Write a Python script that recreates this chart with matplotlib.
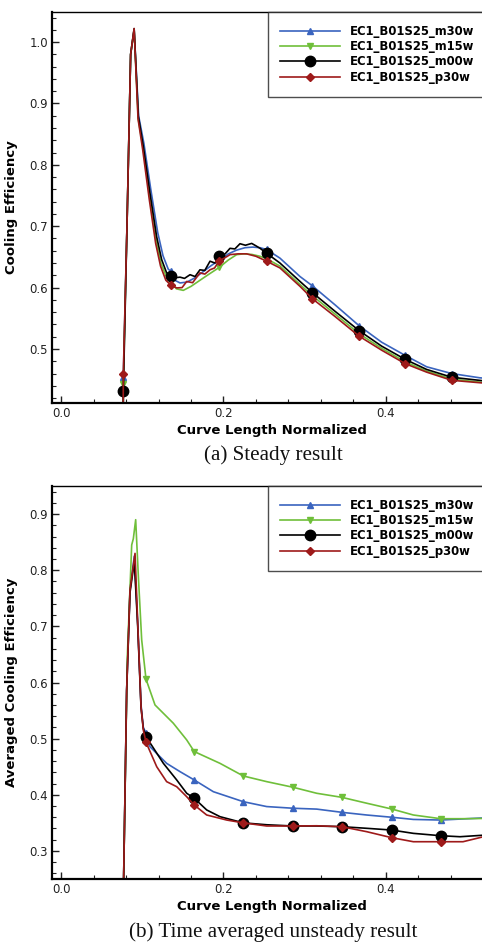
import matplotlib
matplotlib.use("Agg")
import matplotlib.pyplot as plt
from matplotlib.lines import Line2D
from matplotlib.ticker import MultipleLocator, FormatStrFormatter

# ---------------- data: (a) steady result ----------------
series_names = ["EC1_B01S25_m30w", "EC1_B01S25_m15w", "EC1_B01S25_m00w", "EC1_B01S25_p30w"]

a_m30w_x = [0.0765, 0.0767, 0.0812, 0.0857, 0.090, 0.0955, 0.1020, 0.1105, 0.1190, 0.1255, 0.1320, 0.1354,
            0.1400, 0.1465, 0.1550, 0.1650, 0.1750, 0.1850, 0.1957, 0.2060, 0.2160, 0.2265, 0.2360, 0.2450,
            0.2531, 0.2695, 0.2942, 0.3093, 0.3372, 0.3668, 0.3947, 0.4238, 0.450, 0.4808, 0.5157, 0.5305]
a_m30w_y = [0.38, 0.455, 0.70, 0.98, 1.020, 0.880, 0.835, 0.760, 0.690, 0.652, 0.630, 0.6265,
            0.612, 0.6076, 0.609, 0.616, 0.626, 0.636, 0.6455, 0.655, 0.661, 0.665, 0.666, 0.665,
            0.662, 0.648, 0.618, 0.603, 0.572, 0.538, 0.511, 0.4894, 0.471, 0.460, 0.453, 0.4515]

a_m15w_x = [0.0765, 0.0767, 0.0812, 0.0857, 0.090, 0.0950, 0.1010, 0.1090, 0.1170, 0.1230, 0.1290, 0.1354,
            0.1420, 0.1505, 0.1600, 0.1700, 0.1800, 0.1949, 0.2060, 0.2162, 0.2250, 0.2350, 0.2450, 0.2531,
            0.2695, 0.2942, 0.3093, 0.3372, 0.3668, 0.3947, 0.4238, 0.450, 0.4808, 0.5157, 0.5305]
a_m15w_y = [0.38, 0.443, 0.70, 0.98, 1.020, 0.875, 0.828, 0.750, 0.678, 0.640, 0.620, 0.609,
            0.598, 0.5955, 0.602, 0.611, 0.620, 0.633, 0.645, 0.6537, 0.655, 0.654, 0.651, 0.647,
            0.635, 0.605, 0.587, 0.557, 0.525, 0.501, 0.479, 0.464, 0.451, 0.446, 0.4445]

a_m00w_x = [0.0765, 0.0767, 0.0812, 0.0857, 0.090, 0.0952, 0.1013, 0.1095, 0.1177, 0.1239, 0.1300, 0.1354,
            0.1400, 0.1465, 0.1520, 0.1588, 0.1650, 0.1710, 0.1770, 0.1834, 0.1895, 0.1957, 0.2020, 0.2080,
            0.2140, 0.2203, 0.2270, 0.2347, 0.2400, 0.2450, 0.2531, 0.2695, 0.2942, 0.3093, 0.3372, 0.3668,
            0.3947, 0.4238, 0.450, 0.4808, 0.5157, 0.5305]
a_m00w_y = [0.38, 0.431, 0.70, 0.98, 1.022, 0.879, 0.830, 0.754, 0.683, 0.6455, 0.624, 0.6195,
            0.616, 0.617, 0.615, 0.621, 0.618, 0.629, 0.628, 0.643, 0.640, 0.652, 0.655, 0.664,
            0.663, 0.6715, 0.669, 0.672, 0.668, 0.664, 0.656, 0.640, 0.610, 0.592, 0.5615, 0.530,
            0.5046, 0.483, 0.4667, 0.454, 0.4488, 0.447]

a_p30w_x = [0.0765, 0.0767, 0.0812, 0.0857, 0.090, 0.0948, 0.1005, 0.1085, 0.1165, 0.1225, 0.1290, 0.1354,
            0.1424, 0.1490, 0.1547, 0.1620, 0.1710, 0.1770, 0.1834, 0.1890, 0.1949, 0.2010, 0.2080, 0.2180,
            0.2285, 0.2400, 0.2531, 0.2695, 0.2942, 0.3093, 0.3372, 0.3668, 0.3947, 0.4238, 0.450, 0.4808,
            0.5157, 0.5305]
a_p30w_y = [0.38, 0.460, 0.70, 0.98, 1.022, 0.875, 0.825, 0.745, 0.672, 0.635, 0.612, 0.6037,
            0.5995, 0.600, 0.610, 0.608, 0.624, 0.622, 0.629, 0.632, 0.644, 0.648, 0.6537, 0.655,
            0.655, 0.651, 0.643, 0.632, 0.602, 0.582, 0.553, 0.521, 0.498, 0.476, 0.4623, 0.449,
            0.445, 0.4435]

# marker samples (a)
a_mk_x = [0.0767, 0.1354, 0.1949, 0.2531, 0.3093, 0.3668, 0.4238, 0.4808]
a_mk_m30w = [0.455, 0.6265, 0.648, 0.663, 0.603, 0.538, 0.4894, 0.460]
a_mk_m15w = [0.443, 0.609, 0.633, 0.647, 0.587, 0.525, 0.479, 0.451]
a_mk_m00w = [0.431, 0.6195, 0.652, 0.656, 0.592, 0.530, 0.483, 0.454]
a_mk_p30w = [0.460, 0.6037, 0.644, 0.643, 0.582, 0.521, 0.476, 0.449]

# ---------------- data: (b) time averaged unsteady result ----------------
b_m30w_x = [0.0765, 0.0808, 0.0849, 0.0902, 0.0944, 0.0985, 0.1013, 0.1046, 0.1095, 0.1300, 0.1465, 0.1640,
            0.1875, 0.2244, 0.2532, 0.2859, 0.3147, 0.3455, 0.3762, 0.4070, 0.4337, 0.4673, 0.4948, 0.5305]
b_m30w_y = [0.20, 0.587, 0.765, 0.825, 0.706, 0.560, 0.520, 0.510, 0.4857, 0.456, 0.4412, 0.4264,
            0.4055, 0.3877, 0.379, 0.376, 0.3745, 0.3688, 0.364, 0.360, 0.3561, 0.355, 0.357, 0.3595]

b_m15w_x = [0.0765, 0.0816, 0.0870, 0.0890, 0.0919, 0.0952, 0.0993, 0.1046, 0.1157, 0.1382, 0.1547, 0.1640,
            0.1957, 0.2244, 0.2532, 0.2859, 0.3147, 0.3455, 0.3762, 0.4070, 0.4337, 0.4673, 0.4948, 0.5305]
b_m15w_y = [0.20, 0.646, 0.845, 0.856, 0.890, 0.789, 0.676, 0.606, 0.560, 0.5275, 0.4977, 0.477,
            0.456, 0.4335, 0.4234, 0.4133, 0.4027, 0.3955, 0.385, 0.3747, 0.364, 0.3574, 0.3574, 0.358]

b_m00w_x = [0.0765, 0.0808, 0.0849, 0.0902, 0.0944, 0.0985, 0.1013, 0.1046, 0.1260, 0.1424, 0.1547, 0.1640,
            0.1793, 0.1957, 0.2244, 0.2532, 0.2859, 0.3147, 0.3455, 0.3762, 0.4070, 0.4337, 0.4673, 0.4911,
            0.5305]
b_m00w_y = [0.20, 0.585, 0.760, 0.8155, 0.700, 0.555, 0.518, 0.5036, 0.456, 0.4264, 0.4027, 0.3937,
            0.373, 0.361, 0.350, 0.3466, 0.3444, 0.3444, 0.3432, 0.3403, 0.3372, 0.3313, 0.3271, 0.3253,
            0.329]

b_p30w_x = [0.0765, 0.0808, 0.0849, 0.0911, 0.0944, 0.0985, 0.1013, 0.1046, 0.1178, 0.1300, 0.1424, 0.1547,
            0.1640, 0.1793, 0.2040, 0.2244, 0.2532, 0.2859, 0.3147, 0.3455, 0.3762, 0.4070, 0.4337, 0.4673,
            0.4948, 0.5305]
b_p30w_y = [0.20, 0.587, 0.765, 0.830, 0.706, 0.557, 0.5155, 0.4936, 0.450, 0.4234, 0.4144, 0.3966,
            0.3818, 0.364, 0.355, 0.350, 0.3444, 0.3444, 0.3448, 0.3432, 0.3343, 0.3236, 0.3164, 0.3164,
            0.3164, 0.329]

# marker samples (b)
b_mk_x = [0.1046, 0.1640, 0.2244, 0.2859, 0.3455, 0.4070, 0.4673]
b_mk_m30w = [0.510, 0.4264, 0.3877, 0.376, 0.3688, 0.360, 0.355]
b_mk_m15w = [0.606, 0.477, 0.4335, 0.4133, 0.3955, 0.3747, 0.3574]
b_mk_m00w = [0.5036, 0.3937, 0.350, 0.3444, 0.3432, 0.3372, 0.3271]
b_mk_p30w = [0.4936, 0.3818, 0.350, 0.3444, 0.3432, 0.3236, 0.3164]

x_ticks = [0.0, 0.2, 0.4]

# ---------------- styling ----------------
colors = ["#3a64bf", "#6fbf3a", "#000000", "#9e1a1a"]
markers = ["^", "v", "o", "D"]
msizes = [5.0, 5.0, 7.5, 4.5]

W, H = 482, 942
fig = plt.figure(figsize=(W / 100, H / 100), dpi=100)

ax_left = 52 / W
ax_w = 440 / W
xlim = (-0.0111, 0.5305)


def style_axes(ax, ylim, ylabel):
    ax.set_xlim(*xlim)
    ax.set_ylim(*ylim)
    ax.xaxis.set_major_locator(MultipleLocator(0.2))
    ax.xaxis.set_minor_locator(MultipleLocator(0.04))
    ax.yaxis.set_major_locator(MultipleLocator(0.1))
    ax.yaxis.set_minor_locator(MultipleLocator(0.02))
    ax.xaxis.set_major_formatter(FormatStrFormatter("%.1f"))
    ax.yaxis.set_major_formatter(FormatStrFormatter("%.1f"))
    ax.tick_params(which="both", direction="in", top=False, right=False,
                   labelsize=8.5, labelcolor="#222222", color="#222222")
    ax.tick_params(which="major", length=5, width=1.0, pad=3)
    ax.tick_params(which="minor", length=3, width=0.8)
    ax.spines["left"].set_linewidth(1.6)
    ax.spines["bottom"].set_linewidth(1.6)
    ax.spines["top"].set_linewidth(1.0)
    ax.spines["right"].set_visible(False)
    ax.set_xlabel("Curve Length Normalized", fontsize=9.5, fontweight="bold", labelpad=3)
    ax.set_ylabel(ylabel, fontsize=9.5, fontweight="bold")
    ax.yaxis.set_label_coords(-0.077, 0.5)


def draw(ax, lines, mk_x, mk_ys):
    handles = []
    for (lx, ly), my, c, m, ms, name in zip(lines, mk_ys, colors, markers, msizes, series_names):
        ax.plot(lx, ly, color=c, lw=1.2, clip_on=True)
        ax.plot(mk_x, my, linestyle="none", marker=m, ms=ms, color=c, mec=c)
        handles.append(Line2D([0], [0], color=c, lw=1.2, marker=m, ms=ms, mec=c))
    leg = ax.legend(handles, series_names, loc="upper right", bbox_to_anchor=(0.9886, 1.0),
                    borderaxespad=0.0, frameon=True, fancybox=False,
                    prop={"weight": "bold", "size": 8.4}, handlelength=5.1,
                    handletextpad=0.85, labelspacing=0.2, borderpad=1.1)
    leg.get_frame().set_edgecolor("#222222")
    leg.get_frame().set_linewidth(1.0)


# (a)
ax1 = fig.add_axes([ax_left, (H - 403) / H, ax_w, 391 / H])
draw(ax1,
     [(a_m30w_x, a_m30w_y), (a_m15w_x, a_m15w_y), (a_m00w_x, a_m00w_y), (a_p30w_x, a_p30w_y)],
     a_mk_x, [a_mk_m30w, a_mk_m15w, a_mk_m00w, a_mk_p30w])
style_axes(ax1, (0.412, 1.049), "Cooling Efficiency")
ax1.set_xticks(x_ticks)

# (b)
ax2 = fig.add_axes([ax_left, (H - 879) / H, ax_w, 393 / H])
draw(ax2,
     [(b_m30w_x, b_m30w_y), (b_m15w_x, b_m15w_y), (b_m00w_x, b_m00w_y), (b_p30w_x, b_p30w_y)],
     b_mk_x, [b_mk_m30w, b_mk_m15w, b_mk_m00w, b_mk_p30w])
style_axes(ax2, (0.250, 0.950), "Averaged Cooling Efficiency")
ax2.set_xticks(x_ticks)

fig.text(273 / W, 1 - 455 / H, "(a) Steady result", ha="center", va="center",
         family="Liberation Serif", fontsize=15.2, color="#111111")
fig.text(273 / W, 1 - 932 / H, "(b) Time averaged unsteady result", ha="center", va="center",
         family="Liberation Serif", fontsize=15.2, color="#111111")

fig.savefig("out.png", dpi=100)
